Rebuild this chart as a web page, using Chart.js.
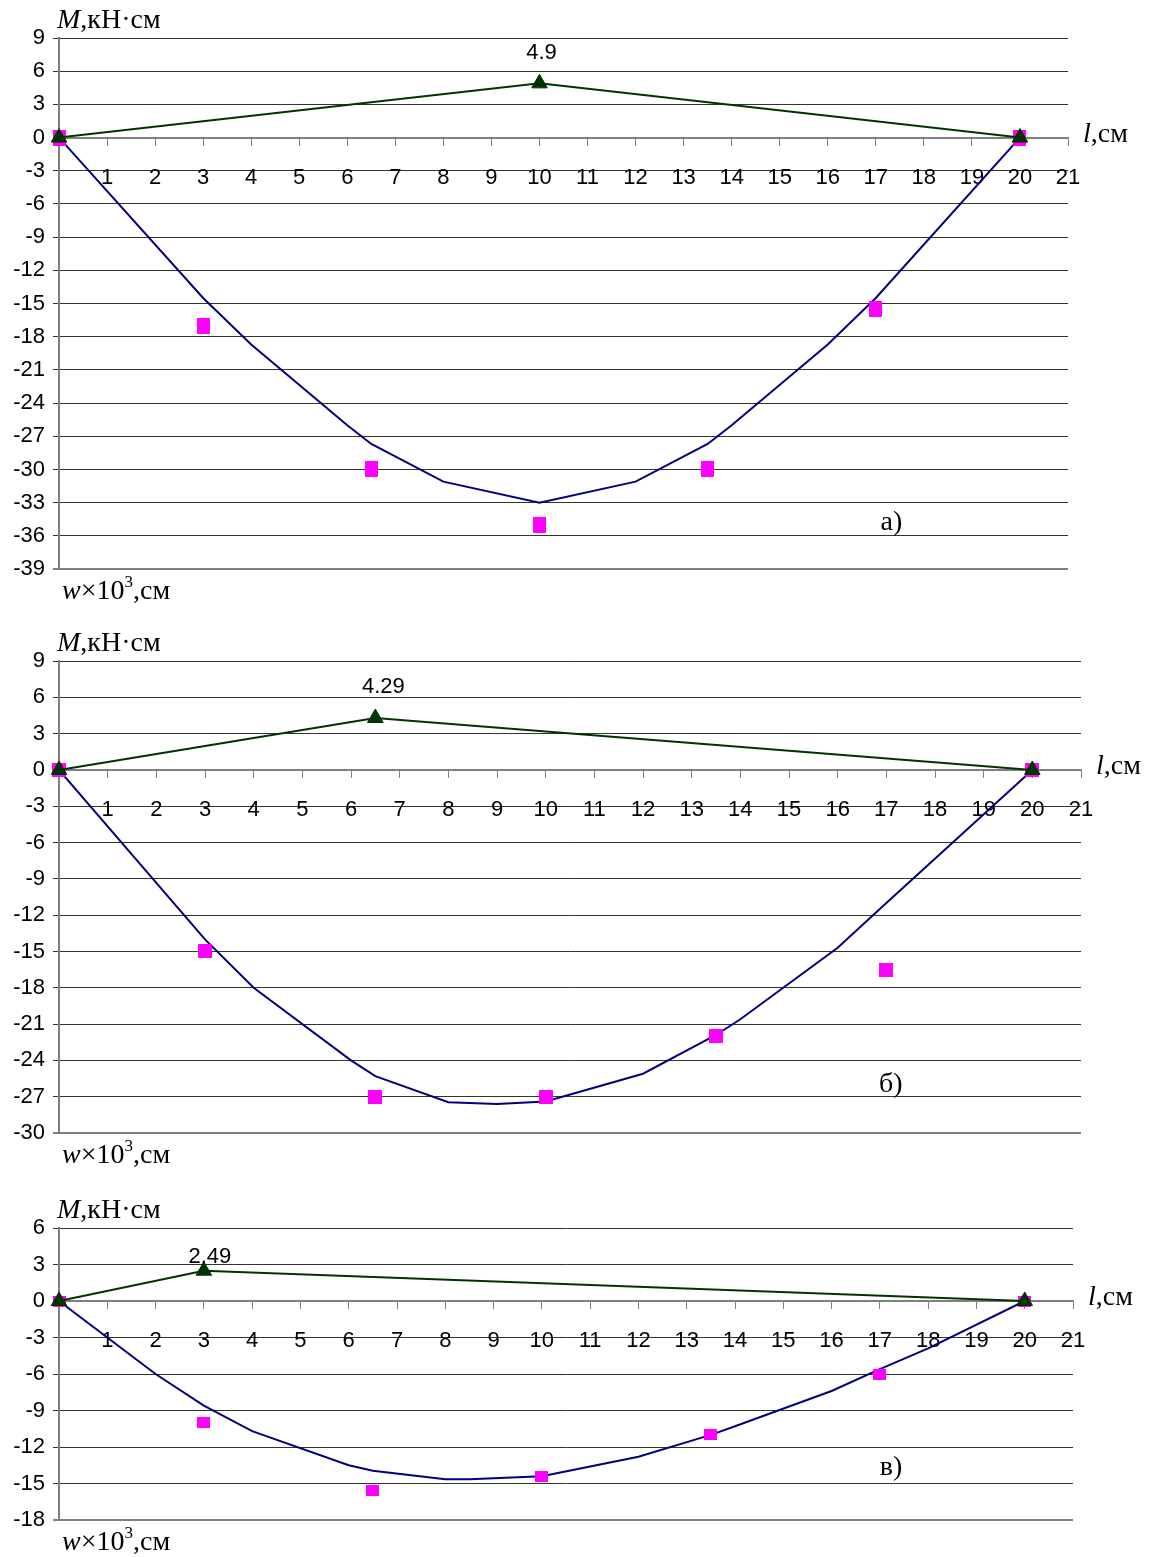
<!DOCTYPE html>
<html>
<head>
<meta charset="utf-8">
<script src="https://cdn.jsdelivr.net/npm/chart.js@4.4.0/dist/chart.umd.min.js"></script>
<style>
  html, body { margin: 0; padding: 0; background: #fff; }
  body { width: 1152px; height: 1557px; position: relative; overflow: hidden; }
  .panel { position: absolute; left: 0; width: 1152px; }
  canvas { display: block; }
</style>
</head>
<body>
<div class="panel" style="top:0;height:612px"><canvas id="chartA" width="1152" height="612"></canvas></div>
<div class="panel" style="top:612px;height:560px"><canvas id="chartB" width="1152" height="560"></canvas></div>
<div class="panel" style="top:1172px;height:385px"><canvas id="chartC" width="1152" height="385"></canvas></div>
<script>
// прогиб: расчёт (линия), опыт (квадраты); момент (треугольники)

// а)
const calcXA = [0, 3, 4, 6, 6.5, 8, 10, 12, 13.5, 14, 16, 17, 20];
const calcYA = [0, -14.5, -18.7, -26, -27.7, -31.1, -33, -31.1, -27.7, -26, -18.7, -14.5, 0];
const expXA = [0, 3, 6.5, 10, 13.5, 17, 20];
const expYA = [0, -17, -30, -35, -30, -15.5, 0];
const momXA = [0, 10, 20];
const momYA = [0, 4.9, 0];

// б)
const calcXB = [0, 3, 4, 6, 6.5, 8, 9, 10, 12, 13.5, 14, 16, 17, 20];
const calcYB = [0, -14, -18, -24, -25.3, -27.45, -27.6, -27.4, -25.1, -21.9, -20.6, -14.7, -11, 0];
const expXB = [0, 3, 6.5, 10, 13.5, 17, 20];
const expYB = [0, -15, -27, -27, -22, -16.5, 0];
const momXB = [0, 6.5, 20];
const momYB = [0, 4.29, 0];

// в)
const calcXC = [0, 2, 3, 4, 6, 6.5, 8, 8.5, 10, 12, 13.5, 14, 16, 17, 18, 20];
const calcYC = [0, -6, -8.6, -10.7, -13.5, -13.95, -14.65, -14.65, -14.4, -12.8, -11, -10.3, -7.4, -5.6, -3.9, 0];
const expXC = [0, 3, 6.5, 10, 13.5, 17, 20];
const expYC = [0, -10, -15.6, -14.4, -11, -6, 0];
const momXC = [0, 3, 20];
const momYC = [0, 2.49, 0];

const yRanges = [[-39, 9], [-30, 9], [-18, 6]];
const xMax = 21;
const panelLetters = ['а)', 'б)', 'в)'];

const serif = '"Liberation Serif", "Times New Roman", serif';
const sans = '"Liberation Sans", Arial, sans-serif';

function toPoints(xs, ys) {
    return xs.map((x, i) => ({ x: x, y: ys[i] }));
}

function rectMarker(w, h, color) {
    const c = document.createElement('canvas');
    c.width = w;
    c.height = h;
    const g = c.getContext('2d');
    g.fillStyle = color;
    g.fillRect(0, 0, w, h);
    return c;
}

function run(ctx, text, font, x, y) {
    ctx.font = font;
    ctx.fillText(text, x, y);
    return x + ctx.measureText(text).width;
}

const textPlugin = {
    id: 'texts',
    afterDraw(chart) {
        const o = chart.options.plugins.texts;
        const ctx = chart.ctx;
        const area = chart.chartArea;
        const xs = chart.scales.x;
        const ys = chart.scales.y;
        ctx.save();
        ctx.fillStyle = '#000';
        ctx.textAlign = 'left';
        ctx.textBaseline = 'alphabetic';

        // M,кН·см
        let x = area.left - 2;
        let y = area.top - 10;
        x = run(ctx, 'M', 'italic 28px ' + serif, x, y);
        run(ctx, ',кН·см', '28px ' + serif, x, y);

        // w×10³,см
        x = area.left + 3;
        y = area.bottom + 30;
        x = run(ctx, 'w', 'italic 28px ' + serif, x, y);
        x = run(ctx, '×10', '28px ' + serif, x, y);
        x = run(ctx, '3', '17px ' + serif, x, y - 12);
        run(ctx, ',см', '28px ' + serif, x, y);

        // l,см
        x = xs.right + 15;
        y = ys.getPixelForValue(0) + 4;
        x = run(ctx, 'l', 'italic 28px ' + serif, x, y);
        run(ctx, ',см', '28px ' + serif, x, y);

        // буква панели
        run(ctx, o.letter, '28px ' + serif, xs.getPixelForValue(o.letterAt[0]), ys.getPixelForValue(o.letterAt[1]));

        // подпись максимума момента
        ctx.textAlign = 'center';
        ctx.font = '22px ' + sans;
        ctx.fillText(String(o.peak[1]), xs.getPixelForValue(o.peak[0]) + o.peakOffset[0],
            ys.getPixelForValue(o.peak[1]) - o.peakOffset[1]);
        ctx.restore();
    }
};

function buildChart(id, d) {
    return new Chart(document.getElementById(id), {
        type: 'scatter',
        plugins: [textPlugin],
        data: {
            datasets: [
                {
                    data: toPoints(d.momX, d.momY),
                    showLine: true,
                    borderColor: '#003300',
                    borderWidth: 2,
                    pointStyle: 'triangle',
                    pointRadius: 9,
                    pointBackgroundColor: '#003300',
                    pointBorderColor: '#003300',
                    pointBorderWidth: 1,
                    clip: false,
                    order: 0
                },
                {
                    data: toPoints(d.expX, d.expY),
                    showLine: false,
                    pointStyle: rectMarker(d.marker[0], d.marker[1], '#ff00ff'),
                    pointRadius: 7,
                    clip: false,
                    order: 1
                },
                {
                    data: toPoints(d.calcX, d.calcY),
                    showLine: true,
                    borderColor: '#000080',
                    borderWidth: 2,
                    pointRadius: 0,
                    order: 2
                }
            ]
        },
        options: {
            responsive: false,
            animation: false,
            devicePixelRatio: 1,
            layout: { padding: d.padding },
            plugins: {
                legend: { display: false },
                tooltip: { enabled: false },
                texts: {
                    letter: d.letter,
                    letterAt: d.letterAt,
                    peak: [d.momX[1], d.momY[1]],
                    peakOffset: d.peakOffset
                }
            },
            scales: {
                x: {
                    type: 'linear',
                    min: 0,
                    max: xMax,
                    position: { y: 0 },
                    grid: { drawOnChartArea: false, tickLength: 7, color: '#808080' },
                    border: { color: '#808080', width: 2 },
                    ticks: {
                        stepSize: 1,
                        autoSkip: false,
                        maxRotation: 0,
                        padding: 20,
                        color: '#000',
                        font: { family: sans, size: 22 },
                        callback: v => (v === 0 ? '' : v)
                    }
                },
                y: {
                    type: 'linear',
                    min: d.yRange[0],
                    max: d.yRange[1],
                    afterFit: s => { s.width = 59; },
                    grid: {
                        color: c => (c.tick && c.tick.value === d.yRange[0] ? '#808080' : '#333333'),
                        lineWidth: c => (c.tick && c.tick.value === d.yRange[0] ? 2 : 1),
                        tickLength: 6
                    },
                    border: { color: '#808080', width: 2 },
                    ticks: {
                        stepSize: 3,
                        padding: 8,
                        color: '#000',
                        font: { family: sans, size: 22 }
                    }
                }
            }
        }
    });
}

buildChart('chartA', {
    calcX: calcXA, calcY: calcYA, expX: expXA, expY: expYA, momX: momXA, momY: momYA,
    yRange: yRanges[0], letter: panelLetters[0], letterAt: [17.1, -35.5],
    peakOffset: [2, 24], marker: [13, 16],
    padding: { left: 0, top: 38, right: 84, bottom: 43 }
});
buildChart('chartB', {
    calcX: calcXB, calcY: calcYB, expX: expXB, expY: expYB, momX: momXB, momY: momYB,
    yRange: yRanges[1], letter: panelLetters[1], letterAt: [16.85, -26.6],
    peakOffset: [8, 25], marker: [14, 14],
    padding: { left: 0, top: 49, right: 71, bottom: 39 }
});
buildChart('chartC', {
    calcX: calcXC, calcY: calcYC, expX: expXC, expY: expYC, momX: momXC, momY: momYC,
    yRange: yRanges[2], letter: panelLetters[2], letterAt: [17.0, -14.3],
    peakOffset: [6, 8], marker: [13, 11],
    padding: { left: 0, top: 56, right: 79, bottom: 37 }
});
</script>
</body>
</html>
